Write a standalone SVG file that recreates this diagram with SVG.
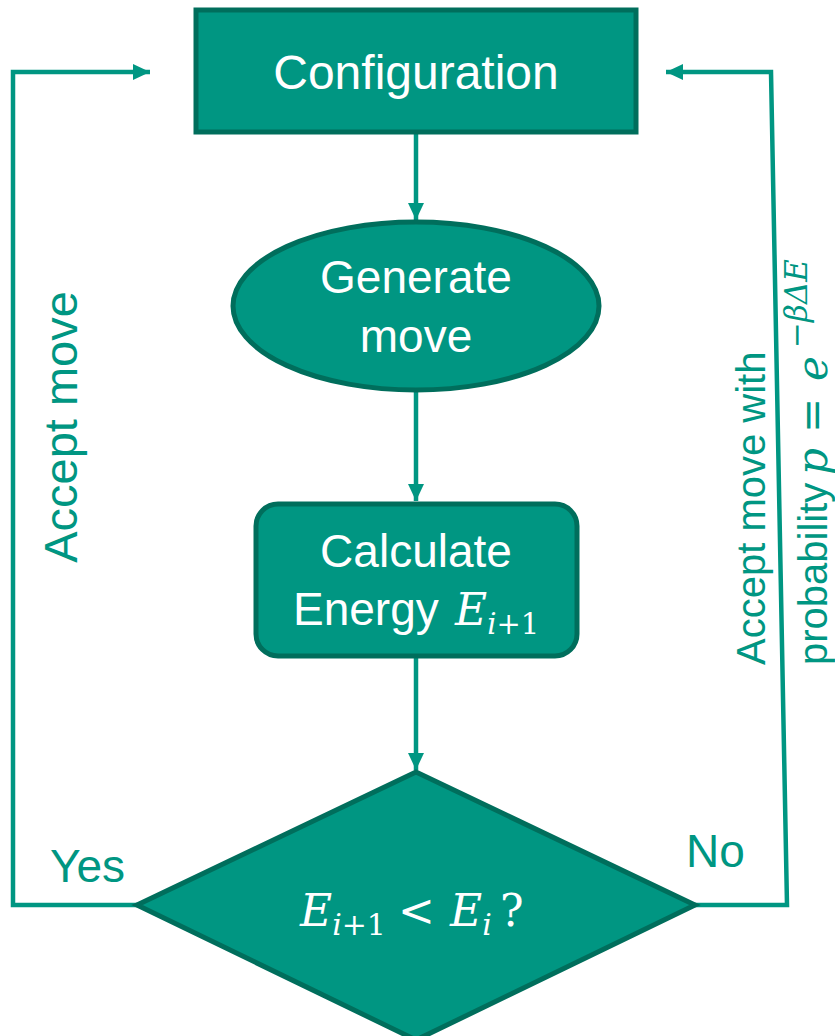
<svg xmlns="http://www.w3.org/2000/svg" width="835" height="1036" viewBox="0 0 835 1036">
<defs>
<marker id="ah" markerUnits="userSpaceOnUse" markerWidth="18" markerHeight="18" viewBox="0 0 18 18" refX="17" refY="9" orient="auto">
<path d="M0,1 L17,9 L0,17 Z" fill="#009682"/>
</marker>
<style>
.node{fill:#009682;stroke:#006e5c;stroke-width:5}
.conn{fill:none;stroke:#009682;stroke-width:4.5;stroke-linejoin:miter}
.wt{fill:#ffffff;font-family:"Liberation Sans",Arial,sans-serif;font-size:46px}
.lbl{fill:#009682;font-family:"Liberation Sans",Arial,sans-serif;font-size:46px}
.m{font-family:"DejaVu Serif","Liberation Serif",serif;font-style:italic}
.r{font-family:"DejaVu Serif","Liberation Serif",serif;font-style:normal}
</style>
</defs>
<g id="connectors">
<path class="conn" d="M416,133 L416,220" marker-end="url(#ah)"/>
<path class="conn" d="M416,390 L416,501" marker-end="url(#ah)"/>
<path class="conn" d="M416,657 L416,770" marker-end="url(#ah)"/>
<path class="conn" d="M137,905 L13,905 L13,72 L150,72" marker-end="url(#ah)"/>
<path class="conn" d="M695,905 L787,905 L771,72 L666,72" marker-end="url(#ah)"/>
</g>
<g id="config">
<rect class="node" x="196" y="10" width="440" height="122"/>
<text class="wt" x="416" y="89" text-anchor="middle" style="font-size:48px">Configuration</text>
</g>
<g id="generate">
<ellipse class="node" cx="416" cy="306" rx="183" ry="84"/>
<text class="wt" x="416" y="293" text-anchor="middle">Generate</text>
<text class="wt" x="416" y="352" text-anchor="middle">move</text>
</g>
<g id="calculate">
<rect class="node" x="256" y="504" width="321" height="152" rx="22" ry="22"/>
<text class="wt" x="416" y="567" text-anchor="middle">Calculate</text>
<text class="wt" x="293" y="625">Energy <tspan class="m" x="455" style="font-size:44px">E</tspan><tspan class="m" dy="9" style="font-size:29px">i</tspan><tspan class="r" style="font-size:29px">+1</tspan></text>
</g>
<g id="decision">
<polygon class="node" points="416,772 695,905 416,1040 137,905"/>
<text class="wt" x="300" y="926" style="font-size:44px"><tspan class="m" x="300">E</tspan><tspan class="m" dy="9" style="font-size:30px">i</tspan><tspan class="r" style="font-size:30px">+1</tspan><tspan class="r" x="398" dy="-9">&lt;</tspan><tspan class="m" x="450">E</tspan><tspan class="m" dy="9" style="font-size:30px">i</tspan><tspan class="r" x="500" dy="-9">?</tspan></text>
</g>
<g id="labels">
<text class="lbl" x="50" y="882">Yes</text>
<text class="lbl" x="686" y="867">No</text>
<text class="lbl" transform="translate(77,427) rotate(-90)" x="0" y="0" text-anchor="middle" style="font-size:47px">Accept move</text>
<text class="lbl" transform="translate(765,665) rotate(-90)" x="0" y="0" style="font-size:40px">Accept move with</text>
<text class="lbl" transform="translate(827,665) rotate(-90)" x="0" y="0" style="font-size:40px">probability <tspan class="m" x="190" style="font-size:42px">p</tspan><tspan class="r" x="232" style="font-size:42px">=</tspan><tspan class="m" x="284" style="font-size:42px">e</tspan><tspan class="m" x="317" dy="-20" style="font-size:31px">−βΔE</tspan></text>
</g>
</svg>
